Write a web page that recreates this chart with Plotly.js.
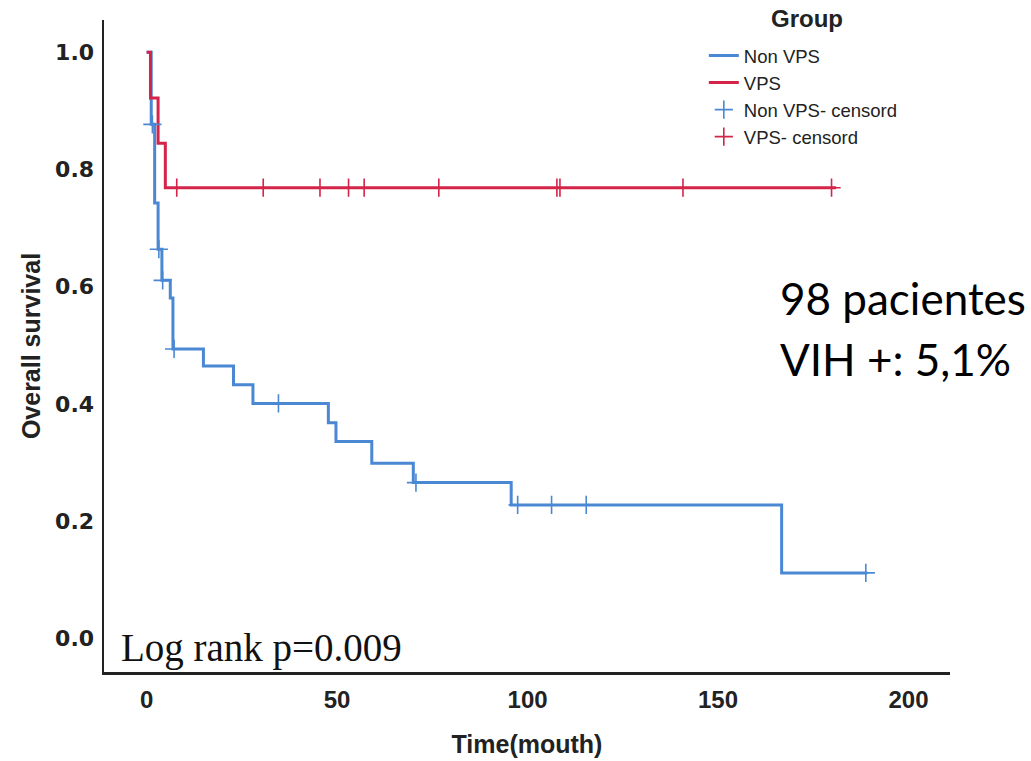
<!DOCTYPE html>
<html>
<head>
<meta charset="utf-8">
<script src="https://cdn.plot.ly/plotly-3.0.1.min.js"></script>
<style>html,body{margin:0;padding:0;background:#fff;}#chart{width:1031px;height:761px;}</style>
</head>
<body>
<div id="chart"></div>
<script>
// Non VPS group: Kaplan-Meier step curve
const nonVpsTime = [0, 1.2, 2.1, 3.0, 4.0, 6.2, 6.9, 14.9, 22.8, 27.9, 47.7, 49.7, 59.1, 70.0, 95.7, 166.7, 189.2];
const nonVpsSurv = [1.0, 0.877, 0.743, 0.664, 0.611, 0.581, 0.494, 0.465, 0.433, 0.401, 0.368, 0.336, 0.299, 0.266, 0.228, 0.112, 0.112];
// Non VPS censored observations
const nonVpsCensTime = [1.5, 3.2, 4.2, 7.2, 34.6, 70.7, 97.4, 106.3, 115.4, 188.8];
const nonVpsCensSurv = [0.877, 0.664, 0.611, 0.494, 0.401, 0.266, 0.228, 0.228, 0.228, 0.112];
// VPS group: Kaplan-Meier step curve
const vpsTime = [0, 1.0, 3.0, 4.9, 181];
const vpsSurv = [1.0, 0.922, 0.845, 0.769, 0.769];
// VPS censored observations
const vpsCensTime = [7.9, 30.6, 45.5, 53.0, 57.1, 76.7, 107.7, 108.5, 140.8, 179.8];
const vpsCensSurv = [0.769, 0.769, 0.769, 0.769, 0.769, 0.769, 0.769, 0.769, 0.769, 0.769];

const xTicks = [0, 50, 100, 150, 200];
const yTicks = [0.0, 0.2, 0.4, 0.6, 0.8, 1.0];
const yTickText = ['0.0', '0.2', '0.4', '0.6', '0.8', '1.0'];

const BLUE = '#4a88d4';
const RED = '#d42449';

const traces = [
  {x: nonVpsTime, y: nonVpsSurv, name: 'Non VPS', type: 'scatter', mode: 'lines',
   line: {shape: 'hv', color: BLUE, width: 3}},
  {x: vpsTime, y: vpsSurv, name: 'VPS', type: 'scatter', mode: 'lines',
   line: {shape: 'hv', color: RED, width: 3}},
  {x: nonVpsCensTime, y: nonVpsCensSurv, name: 'Non VPS- censord', type: 'scatter', mode: 'markers',
   marker: {symbol: 'cross-thin-open', size: 13, color: BLUE, line: {color: BLUE, width: 1.6}}},
  {x: vpsCensTime, y: vpsCensSurv, name: 'VPS- censord', type: 'scatter', mode: 'markers',
   marker: {symbol: 'cross-thin-open', size: 13, color: RED, line: {color: RED, width: 1.6}}}
];

const layout = {
  width: 1031, height: 761,
  margin: {l: 104, r: 81, t: 20, b: 89, pad: 0, autoexpand: false},
  paper_bgcolor: '#fff', plot_bgcolor: '#fff',
  showlegend: true,
  legend: {
    x: 0.709, y: 0.974, xanchor: 'left', yanchor: 'top',
    bgcolor: 'rgba(0,0,0,0)',
    font: {family: 'Liberation Sans, Arial, sans-serif', size: 18.5, color: '#222'},
    tracegroupgap: 0, itemwidth: 30
  },
  xaxis: {
    range: [-11.2, 210.9],
    tickmode: 'array', tickvals: xTicks, ticktext: xTicks.map(String),
    showgrid: false, zeroline: false, showline: true, linecolor: '#222', linewidth: 2.5,
    ticks: '', ticklabelstandoff: 5,
    tickfont: {family: 'Liberation Sans, Arial, sans-serif', size: 24, color: '#222', weight: 'bold'},
    title: {text: 'Time(mouth)', standoff: 23, font: {family: 'Liberation Sans, Arial, sans-serif', size: 25, color: '#222', weight: 'bold'}}
  },
  yaxis: {
    range: [-0.057, 1.055],
    tickmode: 'array', tickvals: yTicks, ticktext: yTickText,
    showgrid: false, zeroline: false, showline: true, linecolor: '#222', linewidth: 2.5,
    ticks: '', ticklabelstandoff: 3,
    tickfont: {family: 'DejaVu Sans, sans-serif', size: 22, color: '#222', weight: 'bold'},
    title: {text: 'Overall survival', standoff: 8, font: {family: 'Liberation Sans, Arial, sans-serif', size: 25, color: '#222', weight: 'bold'}}
  },
  annotations: [
    {text: 'Group', xref: 'paper', yref: 'paper', x: 0.831, y: 1.003,
     xanchor: 'center', yanchor: 'middle', showarrow: false,
     font: {family: 'Liberation Sans, Arial, sans-serif', size: 24, color: '#222', weight: 'bold'}},
    {text: 'Log rank p=0.009', xref: 'paper', yref: 'paper', x: 0.018, y: 0.037,
     xanchor: 'left', yanchor: 'middle', showarrow: false,
     font: {family: 'Liberation Serif, Times New Roman, serif', size: 39, color: '#111'}},
    {text: '98 pacientes', xref: 'paper', yref: 'paper', x: 0.797, y: 0.5735,
     xanchor: 'left', yanchor: 'middle', showarrow: false,
     font: {family: 'Lato, sans-serif', size: 44, color: '#000'}},
    {text: 'VIH +: 5,1%', xref: 'paper', yref: 'paper', x: 0.797, y: 0.4795,
     xanchor: 'left', yanchor: 'middle', showarrow: false,
     font: {family: 'Lato, sans-serif', size: 44, color: '#000'}}
  ]
};

Plotly.newPlot('chart', traces, layout, {displayModeBar: false, staticPlot: true});
</script>
</body>
</html>
